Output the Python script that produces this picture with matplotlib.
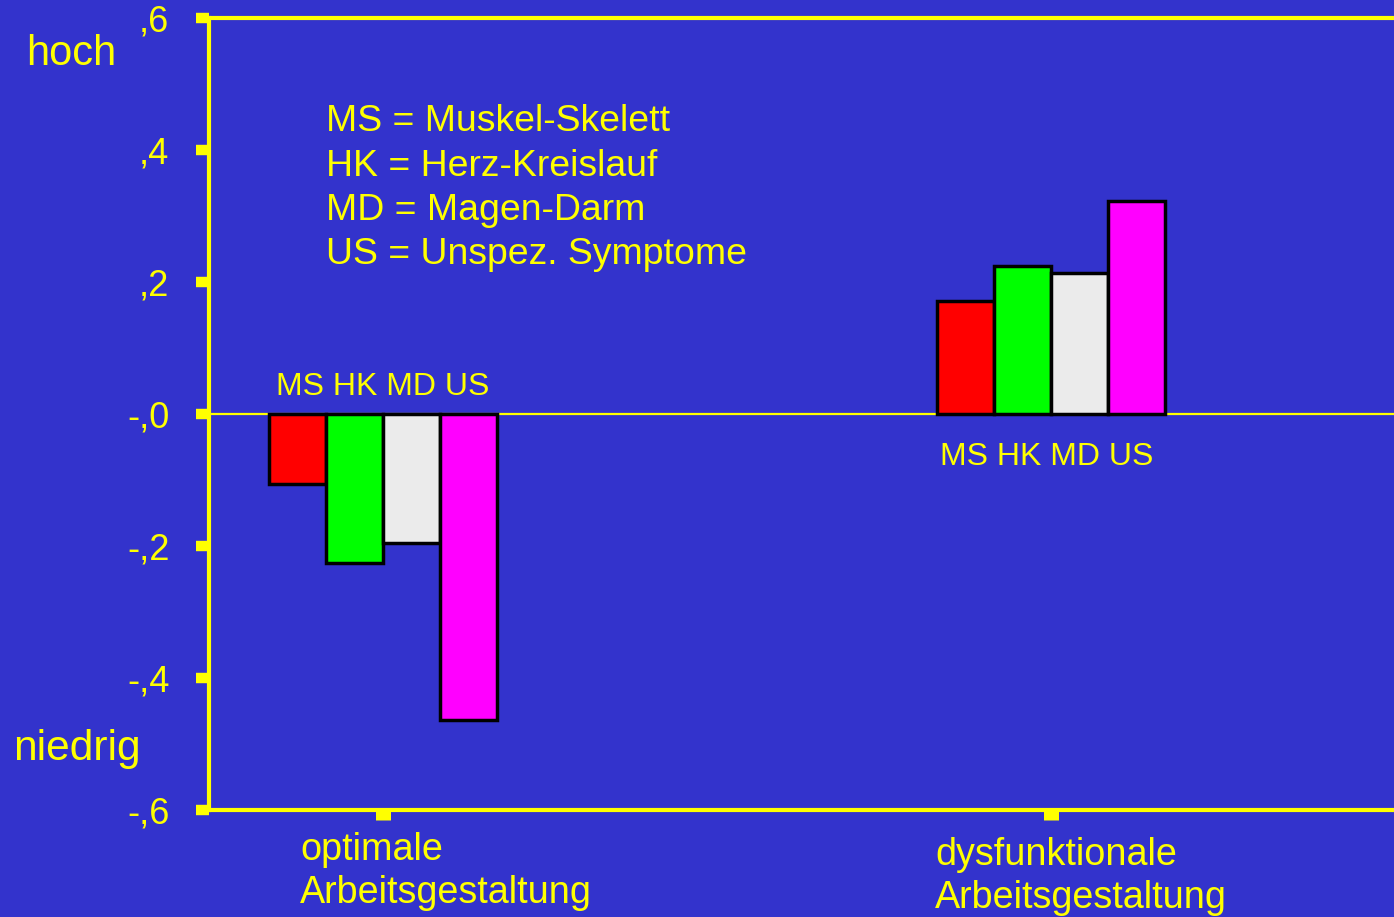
import matplotlib.pyplot as plt
import numpy as np

plt.rcParams['font.family'] = ['Liberation Sans', 'DejaVu Sans']

# data
groups = ["optimale\nArbeitsgestaltung", "dysfunktionale\nArbeitsgestaltung"]
codes = ["MS", "HK", "MD", "US"]
ms = [-0.106, 0.171]
hk = [-0.226, 0.224]
md = [-0.195, 0.214]
us = [-0.464, 0.323]
yticks = [0.6, 0.4, 0.2, 0.0, -0.2, -0.4, -0.6]
ytick_labels = [",6", ",4", ",2", "-,0", "-,2", "-,4", "-,6"]
legend_lines = ["MS = Muskel-Skelett", "HK = Herz-Kreislauf",
                "MD = Magen-Darm", "US = Unspez. Symptome"]

BG = "#3333cc"
YEL = "#ffff00"
colors = ["#ff0000", "#00ff00", "#ebebeb", "#ff00ff"]

W, H = 1394, 917
fig = plt.figure(figsize=(W / 100, H / 100), dpi=100, facecolor=BG)
ax = fig.add_axes([209 / W, 1 - 810 / H, 1 - 209 / W, (810 - 18) / H])
ax.set_facecolor(BG)


def fpos(x, y):
    return x / W, 1 - y / H


x = np.arange(len(groups))
w = 0.0853
series = [ms, hk, md, us]
for i, (vals, c) in enumerate(zip(series, colors)):
    ax.bar(x + (i - 1.5) * w, vals, w, color=c, edgecolor="black",
           linewidth=2.5, zorder=3)

ax.axhline(0, color=YEL, lw=1.6, zorder=2)

ax.set_ylim(-0.6, 0.6)
ax.set_xlim(-0.2605, 1.5135)
ax.set_yticks(yticks)
ax.set_yticklabels(ytick_labels)
ax.set_xticks(x)
ax.set_xticklabels([])

for s in ["left", "top", "bottom"]:
    ax.spines[s].set_color(YEL)
    ax.spines[s].set_linewidth(3)
ax.spines["right"].set_visible(False)

ax.tick_params(axis="y", colors=YEL, length=9.5, width=7.5, pad=19,
               labelsize=26, labelcolor=YEL)
ax.tick_params(axis="x", colors=YEL, length=7, width=10.8)
for lab in ax.get_yticklabels():
    lab.set_y(lab.get_position()[1])
    lab.set_va("center_baseline")

# group code labels
ax.annotate(" ".join(codes), (x[0], 0), xytext=(0, 14),
            textcoords="offset points", ha="center", va="baseline",
            color=YEL, fontsize=23)
ax.annotate(" ".join(codes), (x[1], 0), xytext=(-3, -37),
            textcoords="offset points", ha="center", va="baseline",
            color=YEL, fontsize=23)

# legend text block
for k, line in enumerate(legend_lines):
    fig.text(*fpos(326, 131 + 44.5 * k), line, color=YEL, fontsize=26.9,
             ha="left", va="baseline")

# axis end labels
fig.text(*fpos(26, 65), "hoch", color=YEL, fontsize=30, ha="left",
         va="baseline")
fig.text(*fpos(13, 760), "niedrig", color=YEL, fontsize=30.6, ha="left",
         va="baseline")

# category labels
for (gx, by), label in zip([(300, 860), (935, 865)], groups):
    for j, part in enumerate(label.split("\n")):
        fig.text(*fpos(gx, by + 43 * j), part, color=YEL, fontsize=27.2,
                 ha="left", va="baseline")

fig.savefig("out.png", dpi=100, facecolor=BG)
